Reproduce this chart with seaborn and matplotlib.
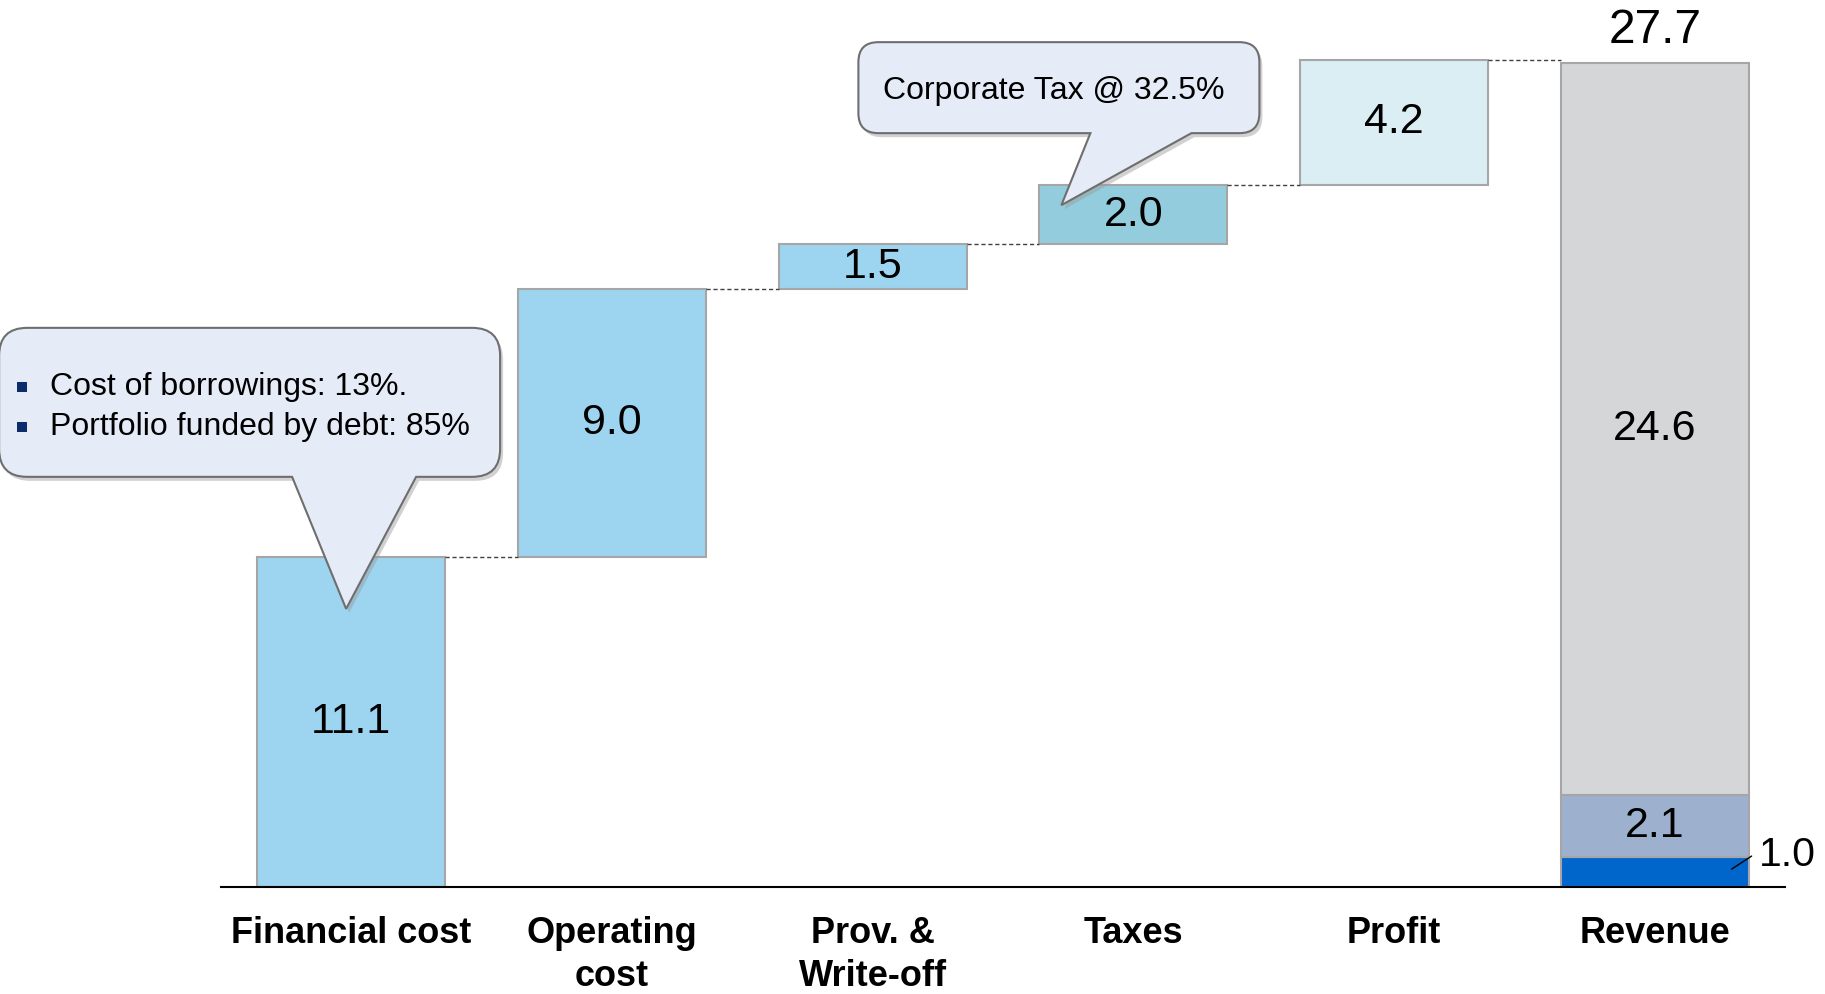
import numpy as np
import pandas as pd
import matplotlib.pyplot as plt
import seaborn as sns
from matplotlib.path import Path
from matplotlib.patches import PathPatch, Rectangle
from matplotlib.transforms import Affine2D

# data
categories = ["Financial cost", "Operating\ncost", "Prov. &\nWrite-off", "Taxes", "Profit", "Revenue"]
step_values = [11.1, 9.0, 1.5, 2.0, 4.2]
step_colors = ["#9DD5F0", "#9DD5F0", "#9DD5F0", "#93CDDD", "#DAEEF3"]
revenue_parts = [1.0, 2.1, 24.6]
revenue_colors = ["#0066CC", "#9DB1CF", "#D5D6D8"]
revenue_total = 27.7
callout_fin = ["Cost of borrowings: 13%.", "Portfolio funded by debt: 85%"]
callout_tax = "Corporate Tax @ 32.5%"

sns.set_style("white")
plt.rcParams['font.family'] = ['Liberation Sans', 'DejaVu Sans']
plt.rcParams['text.color'] = 'black'
plt.rcParams['xtick.color'] = 'black'

EDGE = "#A6A6A6"
BAR_W = 0.72

fig = plt.figure(figsize=(18.25, 9.94), dpi=100)
ax = fig.add_axes([221 / 1825, 107 / 994, 1564 / 1825, 877 / 994])


def draw_bar(cat, height, bottom, color):
    sns.barplot(x=[cat], y=[height], order=categories, bottom=bottom, color=color,
                width=BAR_W, saturation=1, edgecolor=EDGE, linewidth=1.5,
                errorbar=None, ax=ax)


# waterfall steps
bottoms = np.concatenate([[0], np.cumsum(step_values)[:-1]])
for i, (v, b, c) in enumerate(zip(step_values, bottoms, step_colors)):
    draw_bar(categories[i], v, b, c)
    ax.text(i, b + v / 2, f"{v:.1f}", ha="center", va="center", fontsize=31)

# revenue stack
rb = np.concatenate([[0], np.cumsum(revenue_parts)[:-1]])
for v, b, c in zip(revenue_parts, rb, revenue_colors):
    draw_bar(categories[-1], v, b, c)
n = len(categories) - 1
ax.text(n, rb[1] + revenue_parts[1] / 2, f"{revenue_parts[1]:.1f}", ha="center", va="center", fontsize=31)
ax.text(n, rb[2] + revenue_parts[2] / 2, f"{revenue_parts[2]:.1f}", ha="center", va="center", fontsize=31)
ax.text(n, revenue_total + 0.35, f"{revenue_total:.1f}", ha="center", va="bottom", fontsize=34.5)
# small segment label with leader line
ax.plot([n + 0.295, n + 0.372], [0.6, 1.04], color="black", lw=1, clip_on=False)
ax.text(n + 0.40, 1.08, f"{revenue_parts[0]:.1f}", ha="left", va="center", fontsize=29.5)

# connectors
tops = list(np.cumsum(step_values))
for i, t in enumerate(tops):
    ax.plot([i + BAR_W / 2, i + 1 - BAR_W / 2], [t, t], ls=(0, (3, 2)), color="#404040", lw=1)

ax.set_xlim(-0.5, 5.5)
ax.set_ylim(0, 29.48)
ax.set_xlabel("")
ax.set_ylabel("")
ax.set_yticks([])
ax.set_xticks(range(len(categories)))
ax.set_xticklabels(categories, fontweight="bold", fontsize=26, linespacing=1.3)
ax.tick_params(axis="x", length=0, pad=21)
for s in ["top", "left", "right"]:
    ax.spines[s].set_visible(False)
ax.spines["bottom"].set_color("black")
ax.spines["bottom"].set_linewidth(1.5)

# callouts (pixel geometry relative to tip)
pix = Affine2D().scale(1 / fig.dpi) + fig.dpi_scale_trans


def callout_path(x0, y0, x1, y1, r, bl, br, tip):
    v = [(x0 + r, y0), (bl, y0), tip, (br, y0), (x1 - r, y0),
         (x1, y0), (x1, y0 + r), (x1, y1 - r),
         (x1, y1), (x1 - r, y1), (x0 + r, y1),
         (x0, y1), (x0, y1 - r), (x0, y0 + r),
         (x0, y0), (x0 + r, y0), (x0 + r, y0)]
    c = [Path.MOVETO, Path.LINETO, Path.LINETO, Path.LINETO, Path.LINETO,
         Path.CURVE3, Path.CURVE3, Path.LINETO,
         Path.CURVE3, Path.CURVE3, Path.LINETO,
         Path.CURVE3, Path.CURVE3, Path.LINETO,
         Path.CURVE3, Path.CURVE3, Path.CLOSEPOLY]
    return Path(v, c)


def draw_callout(tip_data, box, r, base):
    tx, ty = ax.transData.transform(tip_data)
    l, rr, b, t = box
    p = callout_path(tx + l, ty + b, tx + rr, ty + t, r, tx + base[0], tx + base[1], (tx, ty))
    shadow = PathPatch(p, facecolor="#9A9A9A", edgecolor="none", alpha=0.45,
                       transform=Affine2D().translate(3, -4) + pix, clip_on=False, zorder=8)
    fig.add_artist(shadow)
    fig.add_artist(PathPatch(p, facecolor="#E6EBF8", edgecolor="#6E6E6E", lw=1.5,
                             transform=pix, clip_on=False, zorder=9))
    return tx, ty


tx, ty = draw_callout((-0.02, step_values[0] - 1.75), (-347, 154, 132, 281), 28, (-54, 70))
for k, line in enumerate(callout_fin):
    yy = ty + 222 - 40 * k
    fig.add_artist(Rectangle((tx - 329, yy - 5), 10, 10, facecolor="#0C2C6E", edgecolor="none",
                             transform=pix, zorder=10))
    fig.text(tx - 296, yy, line, ha="left", va="center", fontsize=23, transform=pix, zorder=10)

tx, ty = draw_callout((3 - 0.276, tops[3] - 0.68), (-203, 198, 72, 163), 20, (29, 130))
fig.text(tx - 8, ty + 114, callout_tax, ha="center", va="center", fontsize=23, transform=pix, zorder=10)

fig.savefig("out.png", dpi=100)
